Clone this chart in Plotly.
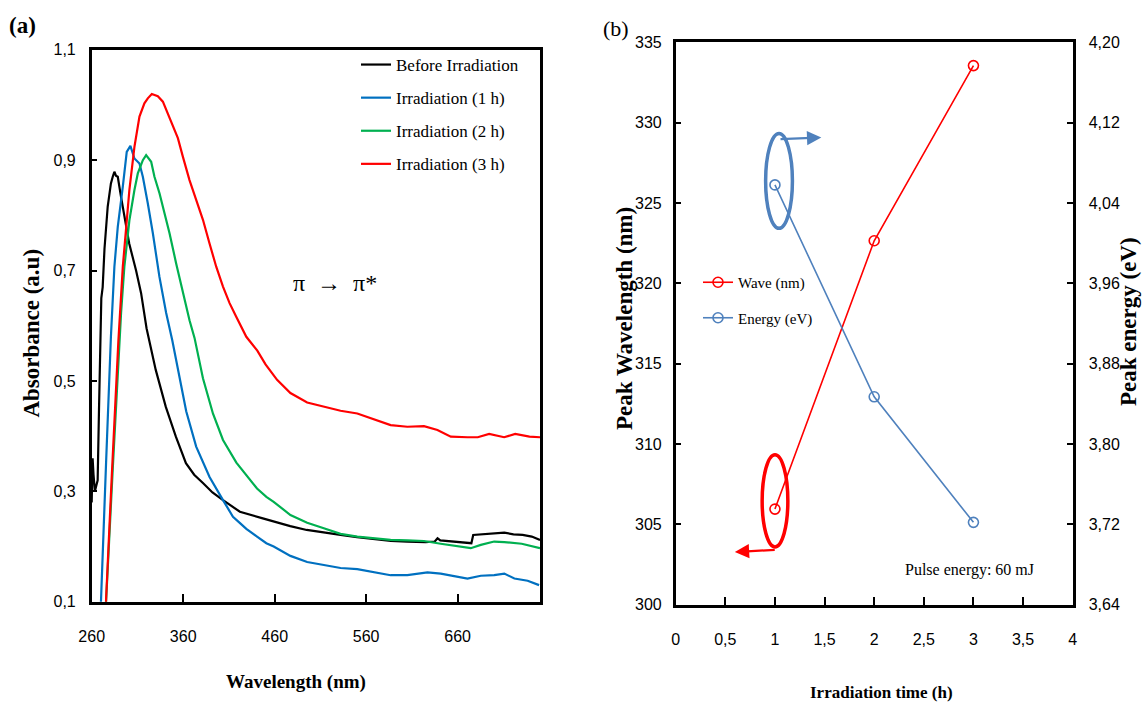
import plotly.graph_objects as go

# ---------------- Panel (a): absorbance spectra ----------------
wl_before = [260, 261, 262, 263.5, 265, 266.5, 268, 269.5, 270.5, 272, 274, 277.5, 281, 283, 284.8,
             286.5, 288.5, 292, 296.8, 301, 308.5, 314, 320, 330, 341, 352, 363, 372, 381.6, 392,
             403.5, 422, 447, 459, 477, 495, 513, 532, 550, 568, 587, 605, 625, 635, 638, 641, 656,
             671, 675, 677, 686, 696, 711, 721, 731, 741, 750]
abs_before = [0.28, 0.36, 0.33, 0.30, 0.31, 0.32, 0.45, 0.58, 0.65, 0.67, 0.74, 0.816, 0.858, 0.87, 0.879,
              0.872, 0.87, 0.834, 0.789, 0.749, 0.70, 0.659, 0.595, 0.52, 0.453, 0.399, 0.351, 0.33, 0.315, 0.298,
              0.284, 0.263, 0.251, 0.245, 0.237, 0.230, 0.225, 0.221, 0.217, 0.213, 0.210, 0.209, 0.208, 0.209,
              0.215, 0.211, 0.209, 0.207, 0.206, 0.221, 0.222, 0.223, 0.225, 0.222, 0.221, 0.218, 0.212]

wl_1h = [268, 270.2, 275.7, 281, 284.8, 288.5, 294, 298.3, 302.3, 306.7, 312.2, 315.9, 321.3, 326.8, 334,
         341.4, 348, 352.3, 363.3, 374.2, 388.8, 403.5, 414.4, 422.4, 429, 440.7, 450.9, 458.9, 477.2,
         495.5, 513.7, 532, 550.3, 568.4, 586.7, 605, 627, 641.5, 656, 670.7, 685.3, 700, 711, 722, 736.5, 749]
abs_1h = [0.03, 0.103, 0.351, 0.58, 0.707, 0.779, 0.852, 0.915, 0.926, 0.903, 0.894, 0.87, 0.822, 0.768, 0.689,
          0.623, 0.574, 0.537, 0.445, 0.381, 0.326, 0.284, 0.254, 0.242, 0.232, 0.218, 0.206, 0.200, 0.183,
          0.172, 0.166, 0.161, 0.159, 0.153, 0.148, 0.148, 0.153, 0.151, 0.147, 0.142, 0.147, 0.148, 0.151,
          0.142, 0.138, 0.130]

wl_2h = [274, 275.7, 283, 291, 292.1, 295.7, 301.2, 306.7, 310.4, 315.9, 319.5, 325, 328.6, 334.1, 339.5,
         345, 352.3, 359.7, 366.9, 372.4, 381.6, 392.5, 403.5, 418.1, 422.4, 436.3, 440.7, 450.9, 458.9,
         477.2, 495.5, 513.7, 532, 550.3, 568.4, 586.7, 605, 623.2, 641.5, 656, 674.3, 685.3, 699.9, 711, 730, 750]
abs_2h = [0.03, 0.10, 0.34, 0.60, 0.623, 0.707, 0.791, 0.846, 0.876, 0.900, 0.909, 0.897, 0.870, 0.840, 0.804,
          0.768, 0.713, 0.659, 0.610, 0.578, 0.505, 0.441, 0.393, 0.352, 0.343, 0.313, 0.305, 0.290, 0.281,
          0.257, 0.243, 0.233, 0.223, 0.218, 0.215, 0.212, 0.211, 0.210, 0.205, 0.201, 0.197, 0.203, 0.209,
          0.208, 0.205, 0.197]

wl_3h = [274, 275.7, 282, 289.2, 294, 297.6, 301.2, 306.7, 312.2, 317.6, 321.3, 325.7, 332.3, 337.8, 343.2,
         348.7, 354.2, 359.7, 366.9, 374.2, 381.6, 388.8, 396.1, 403.5, 410.7, 418.1, 429, 441, 450, 462.6,
         477.2, 495.5, 513.7, 532, 550.3, 568.4, 586.7, 605, 623.2, 637.9, 652.5, 670.7, 682, 694.4, 710.8,
         722.9, 738.5, 750]
abs_3h = [0.03, 0.103, 0.33, 0.574, 0.707, 0.773, 0.846, 0.924, 0.979, 1.003, 1.012, 1.020, 1.016, 1.006, 0.985,
          0.962, 0.940, 0.906, 0.864, 0.828, 0.792, 0.749, 0.707, 0.671, 0.641, 0.616, 0.580, 0.555, 0.53, 0.502,
          0.478, 0.461, 0.453, 0.446, 0.441, 0.430, 0.420, 0.417, 0.418, 0.411, 0.399, 0.398, 0.398, 0.404,
          0.398, 0.404, 0.399, 0.398]

spectra_names = ["Before Irradiation", "Irradiation (1 h)", "Irradiation (2 h)", "Irradiation (3 h)"]
spectra_colors = ["#000000", "#0070C0", "#00B050", "#FF0000"]

# ---------------- Panel (b): peak position vs irradiation time ----------------
irr_time = [1, 2, 3]
peak_wave = [305.95, 322.65, 333.55]   # nm
peak_energy = [4.058, 3.847, 3.722]    # eV

W, H = 1142, 706
def px(x):
    return x / W
def py(y):
    return 1 - y / H

SERIF = "Liberation Serif, Times New Roman, serif"
TICKF = "Liberation Sans Narrow, Liberation Sans, Arial, sans-serif"

fig = go.Figure()

spectra = [(wl_before, abs_before), (wl_1h, abs_1h), (wl_2h, abs_2h), (wl_3h, abs_3h)]
for i, ((wl, ab), name, col) in enumerate(zip(spectra, spectra_names, spectra_colors)):
    fig.add_trace(go.Scatter(x=wl, y=ab, mode="lines", name=name,
                             line=dict(color=col, width=2.2),
                             legendgroup="g%d" % i, legend="legend",
                             xaxis="x", yaxis="y", showlegend=True))

fig.add_trace(go.Scatter(x=irr_time, y=peak_wave, mode="lines+markers", name="Wave (nm)",
                         line=dict(color="#FF0000", width=1.6),
                         marker=dict(symbol="circle-open", size=10, color="#FF0000",
                                     line=dict(width=1.6, color="#FF0000")),
                         legendgroup="w", legend="legend2", xaxis="x2", yaxis="y2"))
fig.add_trace(go.Scatter(x=irr_time, y=peak_energy, mode="lines+markers", name="Energy (eV)",
                         line=dict(color="#4F81BD", width=1.6),
                         marker=dict(symbol="circle-open", size=10, color="#4F81BD",
                                     line=dict(width=1.6, color="#4F81BD")),
                         legendgroup="e", legend="legend2", xaxis="x2", yaxis="y3"))

axis_common = dict(showgrid=False, zeroline=False, showline=True, linecolor="black",
                   linewidth=2.5, ticks="inside", tickcolor="black", tickwidth=1.8,
                   automargin=False,
                   tickfont=dict(family=TICKF, size=16, color="black"))

fig.update_layout(
    width=W, height=H, autosize=False,
    margin=dict(l=0, r=0, t=0, b=0, pad=0, autoexpand=False),
    paper_bgcolor="white", plot_bgcolor="white",
    separators=", ",
    xaxis=dict(axis_common, domain=[px(91.7), px(540)], range=[260, 750], tick0=260, dtick=100,
               ticklen=8, mirror=True, anchor="y", ticklabelstandoff=18),
    yaxis=dict(axis_common, domain=[py(601.7), py(49.8)], range=[0.1, 1.1], tick0=0.1, dtick=0.2,
               tickformat=".1f", ticklen=6, mirror=True, anchor="x", ticklabelstandoff=10),
    xaxis2=dict(axis_common, domain=[px(675.7), px(1072.7)], range=[0, 4], tick0=0, dtick=0.5,
                ticklen=8, mirror=True, anchor="y2", ticklabelstandoff=18),
    yaxis2=dict(axis_common, domain=[py(604.7), py(42.3)], range=[300, 335], tick0=300, dtick=5,
                ticklen=6, anchor="x2", ticklabelstandoff=8),
    yaxis3=dict(axis_common, range=[3.64, 4.20], tick0=3.64, dtick=0.08, tickformat=".2f",
                ticklen=6, overlaying="y2", side="right", anchor="x2", ticklabelstandoff=10),
    legend=dict(x=px(356), y=py(47), xanchor="left", yanchor="top", bgcolor="rgba(0,0,0,0)",
                font=dict(family=SERIF, size=17, color="black"), traceorder="grouped",
                tracegroupgap=8, itemwidth=30),
    legend2=dict(x=px(698), y=py(266), xanchor="left", yanchor="top", bgcolor="rgba(0,0,0,0)",
                 font=dict(family=SERIF, size=15, color="black"), traceorder="grouped",
                 tracegroupgap=13, itemwidth=30),
)

# decorations in panel (b): ellipses around first points, with arrows to their axes
e_left_equiv = 300 + (peak_energy[0] - 3.64) / (4.20 - 3.64) * 35   # energy point on left-axis scale
fig.add_shape(type="circle", xref="x2", yref="y2",
              x0=irr_time[0] - 0.094, x1=irr_time[0] + 0.176,
              y0=e_left_equiv - 2.7, y1=e_left_equiv + 3.2,
              line=dict(color="#4F81BD", width=3.5))
fig.add_shape(type="circle", xref="x2", yref="y2",
              x0=irr_time[0] - 0.129, x1=irr_time[0] + 0.13,
              y0=peak_wave[0] - 2.36, y1=peak_wave[0] + 3.38,
              line=dict(color="#FF0000", width=3.5))
fig.add_annotation(xref="x2", yref="y2", axref="x2", ayref="y2",
                   x=irr_time[0] + 0.467, y=e_left_equiv + 2.95,
                   ax=irr_time[0] + 0.041, ay=e_left_equiv + 2.85,
                   text="", showarrow=True, arrowhead=2, arrowsize=1.3, arrowwidth=2.2,
                   arrowcolor="#4F81BD")
fig.add_annotation(xref="x2", yref="y2", axref="x2", ayref="y2",
                   x=irr_time[0] - 0.404, y=peak_wave[0] - 2.67,
                   ax=irr_time[0] + 0.013, ay=peak_wave[0] - 2.53,
                   text="", showarrow=True, arrowhead=2, arrowsize=1.3, arrowwidth=2.2,
                   arrowcolor="#FF0000")

def label(x, y, text, font, angle=0):
    fig.add_annotation(xref="paper", yref="paper", x=px(x), y=py(y), text=text,
                       xanchor="center", yanchor="middle", textangle=angle,
                       showarrow=False, font=font)

label(969, 569.5, "Pulse energy: 60 mJ", dict(family=SERIF, size=16, color="black"))
label(335, 283, "π  →  π*", dict(family=SERIF, size=24, color="black"))

label(296, 682, "Wavelength (nm)", dict(family=SERIF, size=19, color="black", weight="bold"))
label(881, 692, "Irradiation time (h)", dict(family=SERIF, size=17, color="black", weight="bold"))
vt_font = dict(family=SERIF, size=23, color="black", weight="bold")
label(31.6, 333, "Absorbance (a.u)", vt_font, -90)
label(625, 319, "Peak Wavelength (nm)", vt_font, -90)
label(1129, 322, "Peak energy (eV)", vt_font, -90)
label(22, 25, "(a)", dict(family=SERIF, size=23, color="black", weight="bold"))
label(616, 28, "(b)", dict(family=SERIF, size=22, color="black"))

fig.write_html("out.html", config={"displayModeBar": False},
               post_script="document.body.style.margin='0px';")
